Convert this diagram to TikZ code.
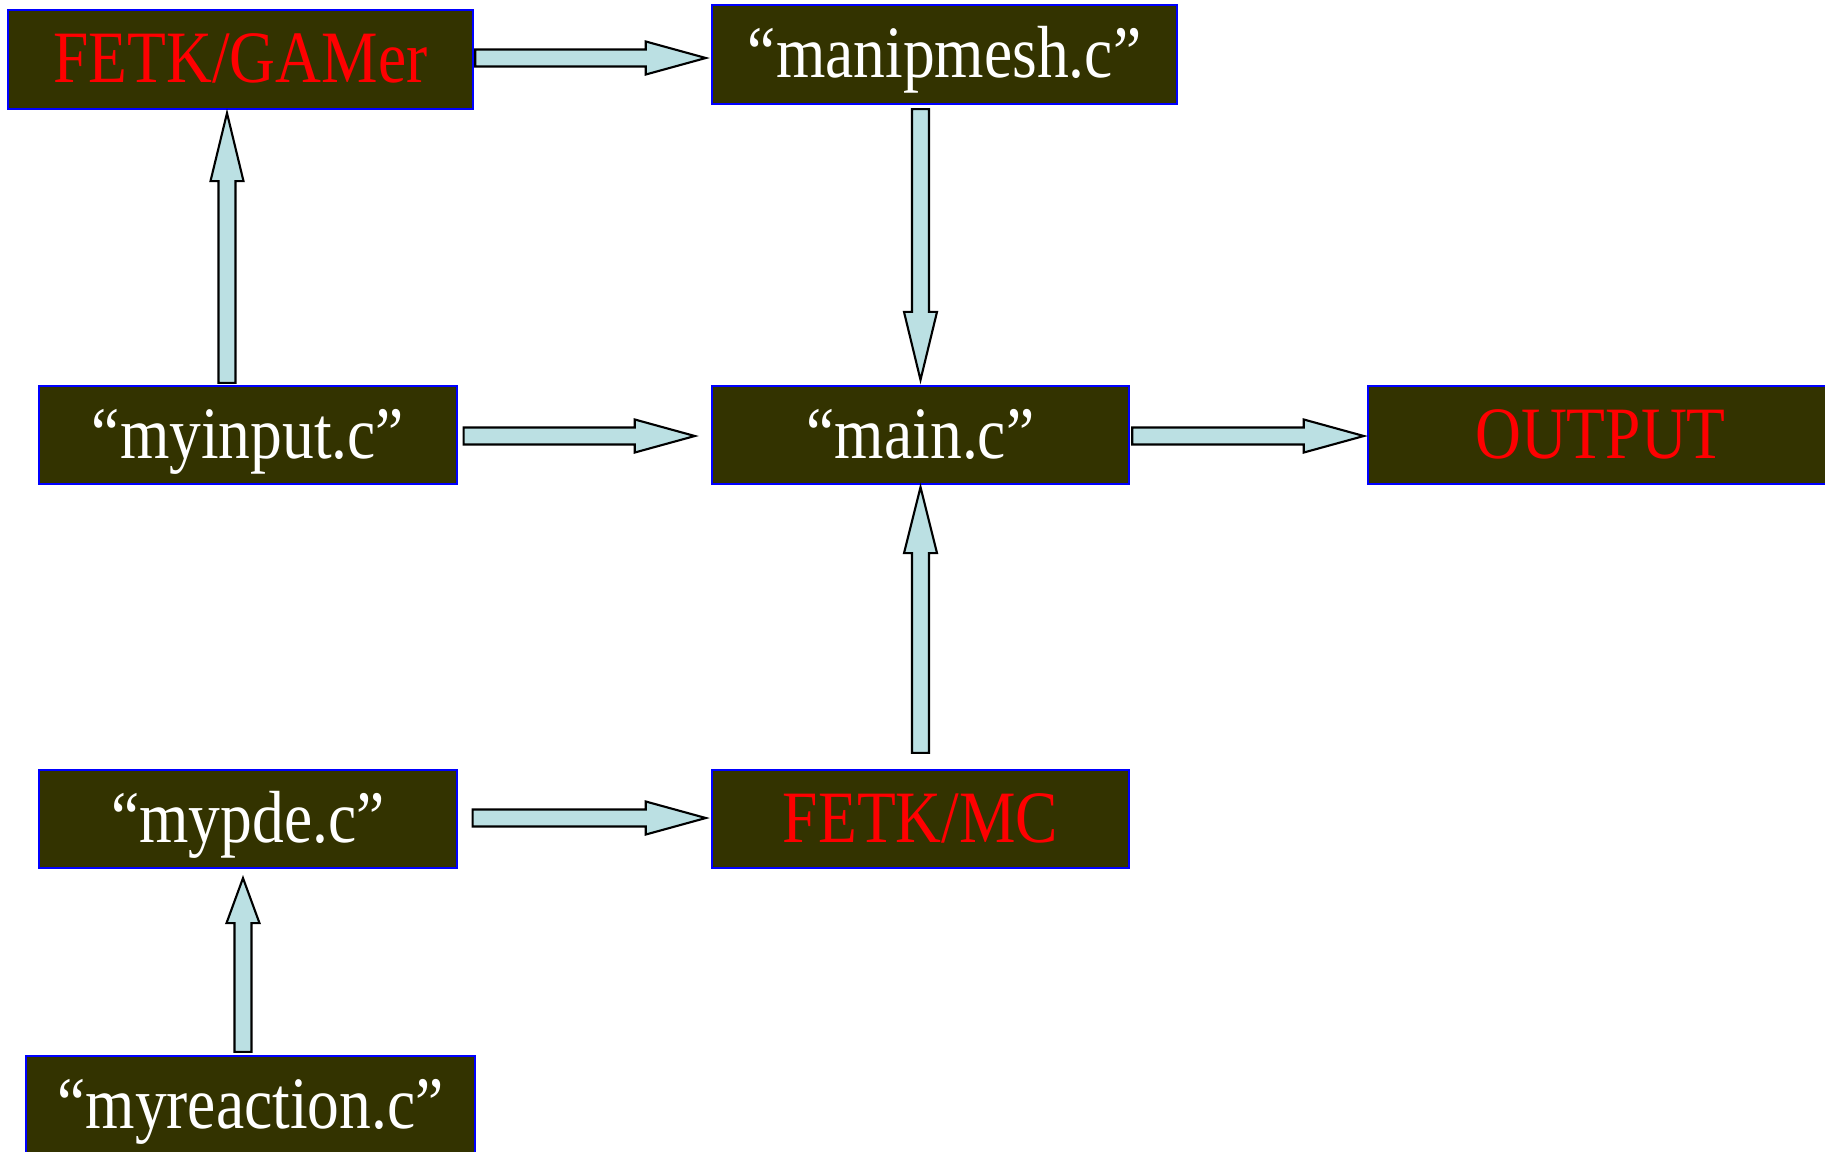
\documentclass[tikz,border=0pt]{standalone}
\usepackage{fontspec}
\setmainfont{Liberation Serif}[FakeStretch=0.86]
\usepackage{tikz}
\usetikzlibrary{positioning,calc}

\definecolor{boxfill}{HTML}{333300}
\definecolor{pipefill}{HTML}{BBE0E3}

% block arrow sizes
\def\pipehalf{0.085cm}
\def\headhalf{0.165cm}
\def\pipehead{0.6cm}

\tikzset{
  srcbox/.style={draw=blue, fill=boxfill, line width=0.6pt, inner sep=0pt,
    minimum width=4.17cm, minimum height=0.98cm, text=white,
    text height=0.6cm, text depth=0.14cm,
    font=\fontsize{21}{24}\selectfont},
  libbox/.style={srcbox, text=red},
  pipe head/.code={\def\pipehead{#1}},
  pipe/.style={draw=black, fill=pipefill, line width=0.6pt, line join=miter,
    to path={let \p1=(\tikztostart), \p2=(\tikztotarget) in
      ($(\p1)!\pipehalf!90:(\p2)$)
      -- ($(\p2)!\pipehead!(\p1)!\pipehalf!90:(\p2)$)
      -- ($(\p2)!\pipehead!(\p1)!\headhalf!90:(\p2)$)
      -- (\p2)
      -- ($(\p2)!\pipehead!(\p1)!\headhalf!-90:(\p2)$)
      -- ($(\p2)!\pipehead!(\p1)!\pipehalf!-90:(\p2)$)
      -- ($(\p1)!\pipehalf!-90:(\p2)$) -- cycle}}
}

\begin{document}
\begin{tikzpicture}[x=0.01cm, y=-0.01cm]
  \useasboundingbox (0,0) rectangle (1825,1151);

  \node[libbox, minimum width=4.65cm, minimum height=0.99cm] (gamer) at (240.5,59.5) {FETK/GAMer};
  \node[srcbox, minimum width=4.65cm, minimum height=0.99cm] (manip) at (944.5,54.5) {“manipmesh.c”};
  \node[srcbox] (myinput) at (248,435) {“myinput.c”};
  \node[srcbox] (main) at (920.5,435) {“main.c”};
  \node[libbox, minimum width=4.65cm] (output) at (1600.5,435) {OUTPUT};
  \node[srcbox] (mypde) at (248,819) {“mypde.c”};
  \node[libbox] (fetkmc) at (920.5,819) {FETK/MC};
  \node[srcbox, minimum width=4.49cm, minimum height=0.99cm] (myreaction) at (250.5,1105.5) {“myreaction.c”};

  \draw[pipe] ($(gamer.east)+(1,-1.5)$) to ($(gamer.east -| manip.west)+(-5,-1.5)$);
  \draw[pipe, pipe head=0.68cm] ($(main.north |- manip.south)+(0,4)$) to ($(main.north)+(0,-5)$);
  \draw[pipe, pipe head=0.68cm] ($(myinput.north)+(-21,-2)$) to ($(myinput.north |- gamer.south)+(-21,3)$);
  \draw[pipe] ($(myinput.east)+(6,1)$) to ($(main.west)+(-16,1)$);
  \draw[pipe] ($(main.east)+(2,1)$) to ($(output.west)+(-3,1)$);
  \draw[pipe, pipe head=0.66cm] ($(fetkmc.north)+(0,-16)$) to ($(main.south)+(0,2)$);
  \draw[pipe] ($(mypde.east)+(15,-1)$) to ($(fetkmc.west)+(-5,-1)$);
  \draw[pipe, pipe head=0.45cm] ($(myreaction.north)+(-7.5,-3)$) to ($(mypde.south)+(-5,9)$);
\end{tikzpicture}
\end{document}
